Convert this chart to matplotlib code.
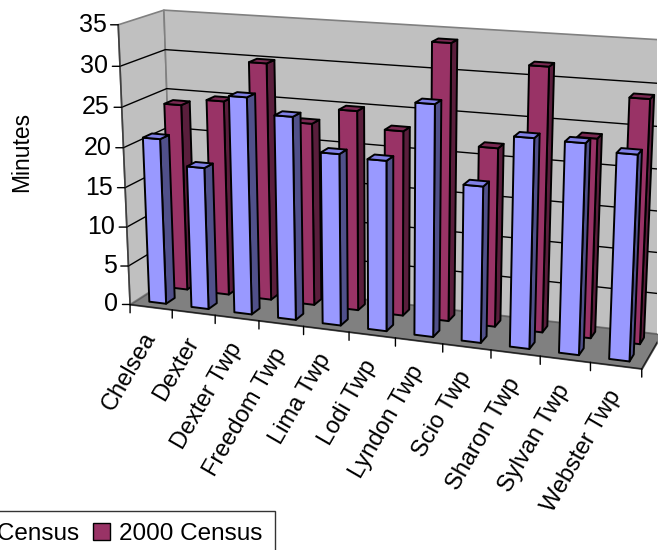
import matplotlib
matplotlib.use("Agg")
import matplotlib.pyplot as plt
from matplotlib.patches import Patch
from mpl_toolkits.mplot3d import proj3d
from mpl_toolkits.mplot3d.art3d import Poly3DCollection

plt.rcParams['font.family'] = ['Liberation Sans', 'DejaVu Sans']

towns = ["Chelsea", "Dexter", "Dexter Twp", "Freedom Twp", "Lima Twp", "Lodi Twp",
         "Lyndon Twp", "Scio Twp", "Sharon Twp", "Sylvan Twp", "Webster Twp"]
census_1990 = [21.0, 17.9, 27.0, 25.1, 21.1, 20.8, 27.9, 18.8, 24.9, 24.8, 24.0]
census_2000 = [24.0, 24.9, 30.0, 23.0, 25.0, 23.0, 33.9, 21.9, 31.9, 24.0, 29.0]
minute_ticks = [0, 5, 10, 15, 20, 25, 30, 35]
series_names = ["1990 Census", "2000 Census"]

# front, top, side shades
blue = ("#9999FF", "#8080E6", "#50508A")
plum = ("#993366", "#7A2952", "#5A1E3C")

ZMAX = 35
DEPTH = 2.0     # one depth slot per series
BAR_W = 0.4     # gap width / gap depth of 150 %

fig = plt.figure(figsize=(6.63, 5.5), dpi=100)
ax = fig.add_axes([0.0755, 0.1609, 1.0, 1.0], projection="3d",
                  proj_type="persp", focal_length=0.5566)
ax.view_init(elev=14.86, azim=-70.18)
ax.set_box_aspect((1.8288, 0.3342, 1.0), zoom=1.1041)
ax.set_axis_off()
ax.computed_zorder = False

ncat = len(towns)

# walls, gridlines and floor
left_wall = [(0, 0, 0), (0, DEPTH, 0), (0, DEPTH, ZMAX), (0, 0, ZMAX)]
back_wall = [(0, DEPTH, 0), (ncat, DEPTH, 0), (ncat, DEPTH, ZMAX), (0, DEPTH, ZMAX)]
floor = [(0, 0, 0), (ncat, 0, 0), (ncat, DEPTH, 0), (0, DEPTH, 0)]
ax.add_collection3d(Poly3DCollection([left_wall, back_wall], facecolors="#C0C0C0",
                                     edgecolors="#808080", linewidths=1.2, zorder=0))
for z in minute_ticks[1:-1]:
    ax.plot([0, 0, ncat], [0, DEPTH, DEPTH], [z, z, z], color="black", lw=1, zorder=0.5)
ax.add_collection3d(Poly3DCollection([floor], facecolors="#808080",
                                     edgecolors="#606060", linewidths=1, zorder=0.6))
ax.plot([0, ncat, ncat], [0, 0, DEPTH], [0, 0, 0], color="#202020", lw=1, zorder=0.7)
ax.plot([0, 0], [0, 0], [0, ZMAX], color="#404040", lw=1.2, zorder=0.7)

order = [1.0]


def add_bar(x0, y0, h, colors):
    x1, y1 = x0 + BAR_W, y0 + BAR_W
    front, top, side = colors
    faces = [
        [(x0, y0, 0), (x1, y0, 0), (x1, y0, h), (x0, y0, h)],
        [(x1, y0, 0), (x1, y1, 0), (x1, y1, h), (x1, y0, h)],
        [(x0, y0, h), (x1, y0, h), (x1, y1, h), (x0, y1, h)],
    ]
    ax.add_collection3d(Poly3DCollection(faces, facecolors=[front, side, top],
                                         edgecolors="black", linewidths=1.4,
                                         zorder=order[0]))
    order[0] += 0.01


# back row first, then the front row, left to right
for i, v in enumerate(census_2000):
    add_bar(i + 0.5 - BAR_W / 2, 1.5 - BAR_W / 2, v, plum)
for i, v in enumerate(census_1990):
    add_bar(i + 0.5 - BAR_W / 2, 0.5 - BAR_W / 2, v, blue)

ax.set_xlim(0, ncat)
ax.set_ylim(0, DEPTH)
ax.set_zlim(0, ZMAX)

M = ax.get_proj()


def to2d(x, y, z):
    px, py, _ = proj3d.proj_transform(x, y, z, M)
    return px, py


tick_line = dict(arrowstyle="-", color="black", lw=1, shrinkA=0, shrinkB=0)
for z in minute_ticks:
    p = to2d(0, 0, z)
    ax.annotate("", xy=p, xycoords="data", xytext=(-5.5, 0),
                textcoords="offset points", arrowprops=tick_line)
    ax.annotate(str(z), xy=p, xycoords="data", xytext=(-8.5, 0),
                textcoords="offset points", ha="right", va="center", fontsize=18)

for k in range(ncat + 1):
    p = to2d(k, 0, 0)
    ax.annotate("", xy=p, xycoords="data", xytext=(0, -6),
                textcoords="offset points", arrowprops=tick_line)
for i, name in enumerate(towns):
    p = to2d(i + 0.5, 0, 0)
    ax.annotate(name, xy=p, xycoords="data", xytext=(0, -19),
                textcoords="offset points", rotation=60, rotation_mode="anchor",
                ha="right", va="center", fontsize=17)

fig.text(22 / 663, 1 - 152 / 550, "Minutes", rotation=90, ha="center", va="center",
         fontsize=16.5)

handles = [Patch(facecolor=blue[0], edgecolor="black"),
           Patch(facecolor=plum[0], edgecolor="black")]
fig.legend(handles, series_names, loc="upper right", ncol=2,
           bbox_to_anchor=(275 / 663, 1 - 511 / 550), borderaxespad=0,
           fontsize=17.5, frameon=True, fancybox=False, edgecolor="black",
           handlelength=0.7, handleheight=0.7, handletextpad=0.4,
           columnspacing=0.55, borderpad=0.5)

fig.savefig("out.png", dpi=100)
